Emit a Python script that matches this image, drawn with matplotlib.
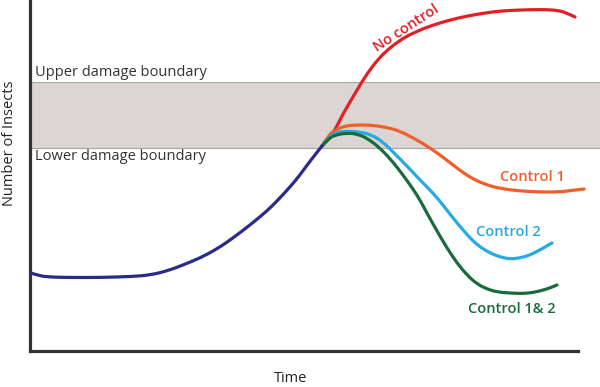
import matplotlib
matplotlib.use("Agg")
import matplotlib.pyplot as plt
from matplotlib.path import Path
from matplotlib.patches import PathPatch

plt.rcParams['font.family'] = ['Open Sans', 'DejaVu Sans']

# Coordinates: time (x) and number of insects (y), in chart units
base_t = [31, 40, 50, 67, 100, 133, 150, 167, 183, 200, 217, 233, 250, 267, 278, 290, 300, 310, 322]
base_y = [273, 276, 277, 277.5, 277.5, 276.5, 275, 271, 265, 258, 249, 238, 225, 211, 200, 187, 175, 161, 146]

noctl_t = [322, 328, 333, 338, 342, 347, 353, 360, 367, 375, 385, 400, 415, 433, 450, 467, 485, 500, 520, 540, 555, 565, 575]
noctl_y = [146, 140, 133, 124, 116, 107, 97, 85, 74, 63, 52, 40, 32, 25, 20, 16, 13, 11, 10, 9.5, 10, 12, 17]

c1_t = [322, 328, 335, 345, 355, 370, 385, 400, 417, 430, 440, 453, 465, 475, 487, 500, 520, 540, 560, 575, 584]
c1_y = [146, 136, 130, 126, 125, 125, 127, 131, 140, 148, 155, 165, 174, 180, 185, 188.5, 191, 192, 192, 190, 189]

c2_t = [322, 328, 335, 345, 360, 372, 383, 395, 407, 420, 433, 443, 453, 463, 472, 480, 490, 500, 510, 520, 530, 540, 552]
c2_y = [146, 138, 133, 131, 132, 135, 142, 154, 166, 180, 193, 205, 218, 230, 240, 247, 253, 257, 259, 258, 255, 250, 243]

c12_t = [322, 328, 335, 347, 357, 367, 380, 393, 403, 413, 420, 428, 437, 447, 457, 467, 477, 487, 497, 510, 520, 530, 540, 550, 557]
c12_y = [146, 139, 135, 133, 134, 138, 148, 162, 175, 189, 200, 215, 231, 248, 263, 275, 284, 289, 292, 293, 293.5, 293, 291, 288, 285]

upper_bound = 82
lower_bound = 148

H = 351  # axis baseline


def inv(ys):
    return [H - v for v in ys]


def smooth_curve(ax, xs, ys, color, lw, z):
    # quadratic B-spline style path through the read points
    pts = list(zip(xs, inv(ys)))
    verts = [pts[0]]
    codes = [Path.MOVETO]
    for i in range(1, len(pts) - 1):
        mx = (pts[i][0] + pts[i + 1][0]) / 2
        my = (pts[i][1] + pts[i + 1][1]) / 2
        if i == len(pts) - 2:
            mx, my = pts[i + 1]
        verts += [pts[i], (mx, my)]
        codes += [Path.CURVE3, Path.CURVE3]
    patch = PathPatch(Path(verts, codes), facecolor='none', edgecolor=color, lw=lw,
                      capstyle='round', joinstyle='round', zorder=z, clip_on=False)
    ax.add_patch(patch)


fig = plt.figure(figsize=(6, 3.87), dpi=100)
ax = fig.add_axes([30 / 600, (387 - 351) / 387, 548 / 600, 351 / 387])
ax.set_xlim(30, 578)
ax.set_ylim(0, 351)
for s in ['top', 'right']:
    ax.spines[s].set_visible(False)
for s in ['left', 'bottom']:
    ax.spines[s].set_linewidth(2.3)
    ax.spines[s].set_color('#333333')
ax.set_xticks([])
ax.set_yticks([])

# damage band
ax.fill_between([31, 600], H - lower_bound, H - upper_bound, color='#dbd6d4', clip_on=False, zorder=1, lw=0)
ax.plot([31, 600], [H - lower_bound] * 2, color='#a9a5a3', lw=0.8, clip_on=False, zorder=1.5)
ax.plot([31, 600], [H - upper_bound] * 2, color='#a9a5a3', lw=0.8, clip_on=False, zorder=1.5)

lw = 2.3
smooth_curve(ax, noctl_t, noctl_y, '#e31e24', lw, 3)
smooth_curve(ax, c1_t, c1_y, '#ef5f2a', lw, 3)
smooth_curve(ax, c2_t, c2_y, '#27a9e1', lw, 3.1)
smooth_curve(ax, c12_t, c12_y, '#196b3c', lw, 3.2)
smooth_curve(ax, base_t, base_y, '#2a2a8c', lw, 3.3)

fs = 10.5
ax.text(35, H - 72, 'Upper damage boundary', fontsize=fs, color='#333333', va='center', ha='left')
ax.text(35, H - 157, 'Lower damage boundary', fontsize=fs, color='#333333', va='center', ha='left')

ax.text(406, H - 28, 'No control', fontsize=fs, color='#e31e24', fontweight='semibold',
        rotation=33, ha='center', va='center', rotation_mode='anchor')
ax.text(532, H - 177, 'Control 1', fontsize=fs, color='#ef5f2a', fontweight='semibold', ha='center', va='center')
ax.text(508, H - 232, 'Control 2', fontsize=fs, color='#27a9e1', fontweight='semibold', ha='center', va='center')
ax.text(512, H - 309, 'Control 1& 2', fontsize=fs, color='#196b3c', fontweight='semibold', ha='center', va='center')

fig.text(291 / 600, 1 - 378 / 387, 'Time', fontsize=fs, color='#222222', ha='center', va='center')
fig.text(10 / 600, 1 - 143 / 387, 'Number of Insects', fontsize=fs, color='#222222', ha='center', va='center', rotation=90)

fig.savefig('out.png', dpi=100, facecolor='white')
